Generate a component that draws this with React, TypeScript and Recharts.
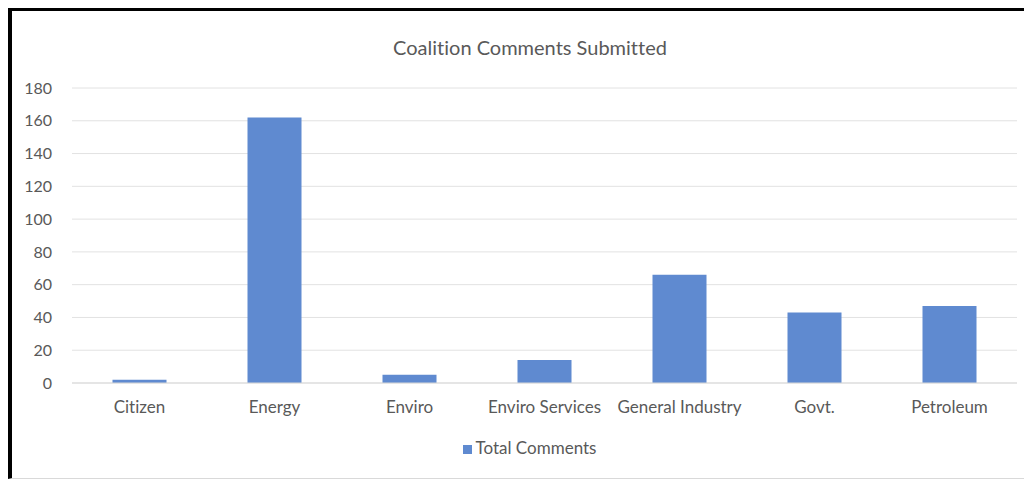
import { Bar, BarChart, CartesianGrid, Legend, XAxis, YAxis } from 'recharts';

const categories = ['Citizen', 'Energy', 'Enviro', 'Enviro Services', 'General Industry', 'Govt.', 'Petroleum'];
const totalComments = [2, 162, 5, 14, 66, 43, 47];
const yTicks = [0, 20, 40, 60, 80, 100, 120, 140, 160, 180];

const data = categories.map((name, i) => ({ name, total: totalComments[i] }));

const font = 'Lato, "Open Sans", sans-serif';
const textColor = '#595959';
const barColor = '#5f8ad0';

export default function App() {
  return (
    <div
      style={{
        position: 'relative',
        width: 1020,
        height: 467,
        borderTop: '3px solid #000',
        borderLeft: '4px solid #000',
        borderBottom: '1px solid #d9d9d9',
        background: '#fff',
        fontFamily: font,
        fontVariantLigatures: 'none',
      }}
    >
      <div
        style={{
          position: 'absolute',
          top: 24,
          left: 0,
          width: 1036,
          textAlign: 'center',
          fontSize: 20,
          color: textColor,
        }}
      >
        Coalition Comments Submitted
      </div>
      <BarChart
        width={1020}
        height={467}
        data={data}
        margin={{ top: 77, right: 15, left: 0, bottom: 44 }}
        barCategoryGap="30%"
      >
        <CartesianGrid stroke="#e2e2e2" vertical={false} />
        <XAxis
          dataKey="name"
          axisLine={{ stroke: '#d9d9d9' }}
          tickLine={false}
          tickSize={0}
          tickMargin={18}
          interval={0}
          tick={{ fill: textColor, fontSize: 17, fontFamily: font }}
        />
        <YAxis
          width={60}
          domain={[0, 180]}
          ticks={yTicks}
          axisLine={false}
          tickLine={false}
          tickSize={0}
          tickMargin={20}
          tick={{ fill: textColor, fontSize: 16, fontFamily: font }}
        />
        <Legend
          verticalAlign="bottom"
          iconType="square"
          iconSize={9}
          wrapperStyle={{ bottom: 20, left: 20, fontSize: 17, fontFamily: font }}
          formatter={(v) => <span style={{ color: textColor }}>{v}</span>}
        />
        <Bar dataKey="total" name="Total Comments" fill={barColor} isAnimationActive={false} />
      </BarChart>
    </div>
  );
}
